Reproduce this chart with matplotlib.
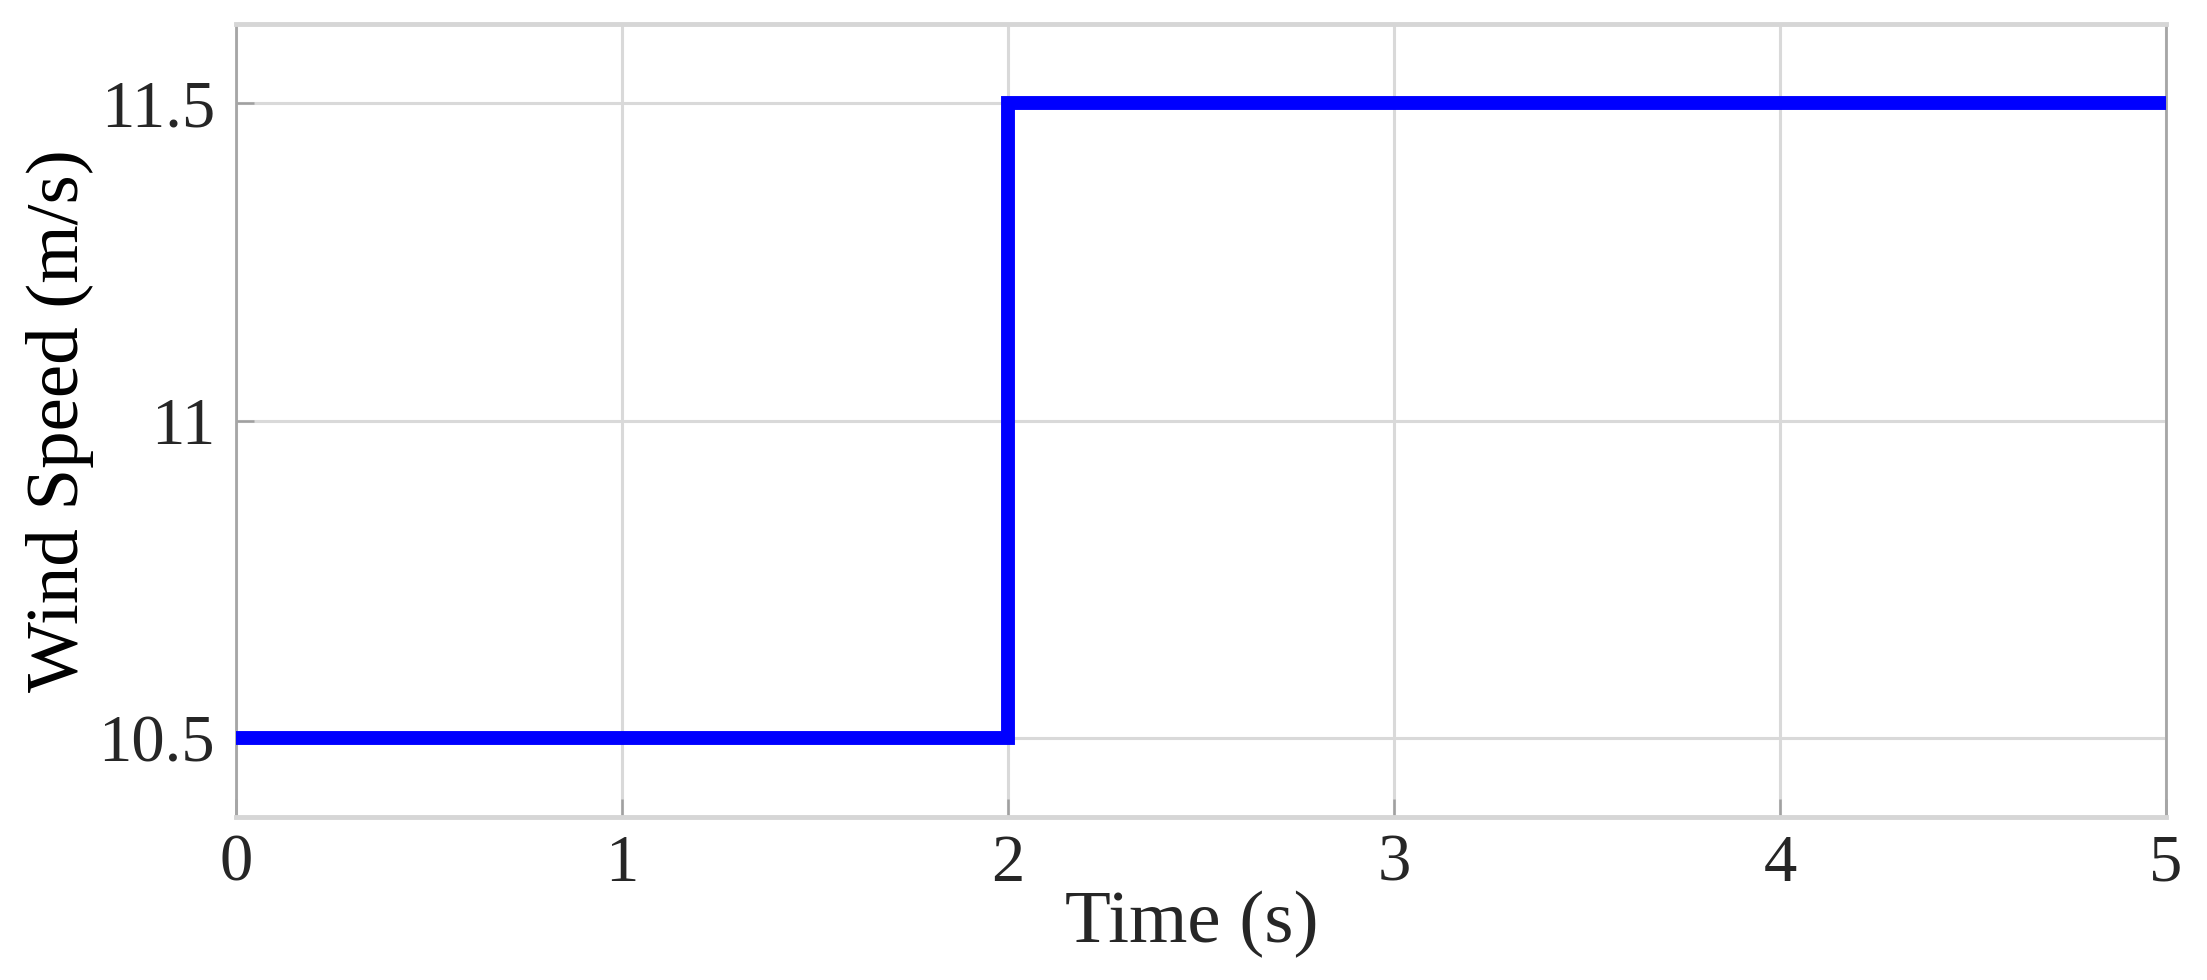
#!/usr/bin/env python3

import matplotlib
matplotlib.use("Agg")
import matplotlib.pyplot as plt

# step in wind speed at t = 2 s
time = [0, 2, 5]
wind_speed = [10.5, 11.5, 11.5]

x_ticks = [0, 1, 2, 3, 4, 5]
y_ticks = [10.5, 11, 11.5]
y_tick_labels = ["10.5", "11", "11.5"]


def init_figure_settings():
    plt.rcParams["font.family"] = ["Liberation Serif", "DejaVu Serif"]
    plt.rcParams["font.size"] = 48
    plt.rcParams["axes.linewidth"] = 2


if __name__ == "__main__":
    init_figure_settings()
    fig = plt.figure(figsize=(22.07, 9.8), dpi=100)
    ax = fig.add_axes([0.1069, 0.1663, 0.8745, 0.8092])

    ax.plot(time, wind_speed, color="#0000ff", lw=10, drawstyle="steps-post",
            solid_joinstyle="miter", zorder=3)

    ax.set_xlim(0, 5)
    ax.set_ylim(10.375, 11.625)
    ax.set_xticks(x_ticks)
    ax.set_yticks(y_ticks)
    ax.set_yticklabels(y_tick_labels)

    ax.grid(True, color="#d9d9d9", lw=2.2)
    ax.set_axisbelow(True)
    ax.tick_params(direction="in", length=13, width=1.8, color="#a0a0a0",
                   labelcolor="#262626", labelsize=48)
    ax.tick_params(axis="y", pad=15)
    ax.tick_params(axis="x", pad=12)

    for side in ["left", "right"]:
        ax.spines[side].set_color("#a6a6a6")
        ax.spines[side].set_linewidth(2)
    for side in ["top", "bottom"]:
        ax.spines[side].set_color("#d6d6d6")
        ax.spines[side].set_linewidth(3.5)

    ax.set_xlabel("Time (s)", fontsize=54, color="#262626", va="baseline")
    ax.xaxis.set_label_coords(0.4953, -0.1576)
    ax.set_ylabel("Wind Speed (m/s)", fontsize=54, color="black")
    ax.yaxis.set_label_coords(-0.0736, 0.5)

    plt.savefig("out.png", dpi=100)
